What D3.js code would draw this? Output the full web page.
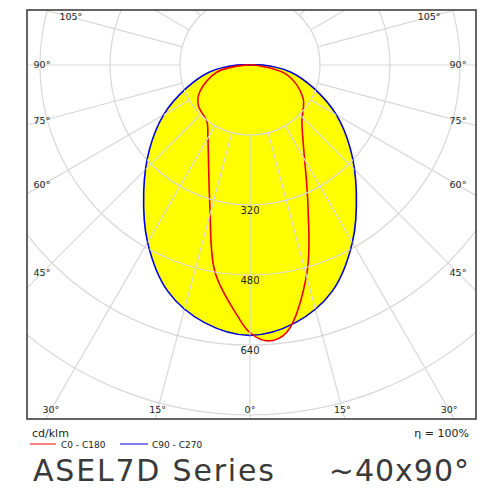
<!DOCTYPE html>
<html><head><meta charset="utf-8">
<script src="https://cdn.jsdelivr.net/npm/d3@7"></script>
<style>body{margin:0;background:#fff}text{font-family:"DejaVu Sans",sans-serif}</style>
</head><body><svg id="c" width="500" height="500"></svg>
<script>
// intensity in cd/klm vs gamma angle (deg from nadir)
var c90Angles = [0, 10, 20, 30, 40, 50, 60, 70, 80, 90];
var c90Values = [618, 598, 550, 468, 378, 300, 228, 155, 95, 30];
var c0Angles = [-90, -78, -62, -52, -37, -31, -16, -9.6, -3, 0, 3.7, 7.9, 15.4, 22.5, 42.4, 58, 75, 90];
var c0Values = [10, 77, 130, 150, 163, 187, 333, 480, 572, 612, 632, 616, 491, 346, 176, 143, 88, 10];
var ringValues = [160, 320, 480, 640, 800, 960, 1120, 1280];
var ringLabels = [320, 480, 640];
var gridAngles = d3.range(-180, 180, 15);

var svg = d3.select("#c");
var cx = 250, cy = 65;
var frame = {x0: 27, y0: 10, x1: 476, y1: 419};
var r = d3.scaleLinear().domain([0, 640]).range([0, 280]);

svg.append("clipPath").attr("id", "fr").append("rect")
  .attr("x", frame.x0).attr("y", frame.y0).attr("width", frame.x1 - frame.x0).attr("height", frame.y1 - frame.y0);
var g = svg.append("g").attr("clip-path", "url(#fr)");
var grid = g.append("g").attr("stroke", "#d8d8d8").attr("fill", "none").attr("stroke-width", 1.2);
grid.selectAll("circle").data(ringValues).enter().append("circle")
  .attr("cx", cx).attr("cy", cy).attr("r", function(d) { return r(d); });
grid.selectAll("line").data(gridAngles).enter().append("line")
  .attr("x1", function(d) { return cx + r(160) * Math.sin(d * Math.PI / 180); })
  .attr("y1", function(d) { return cy + r(160) * Math.cos(d * Math.PI / 180); })
  .attr("x2", function(d) { return cx + 800 * Math.sin(d * Math.PI / 180); })
  .attr("y2", function(d) { return cy + 800 * Math.cos(d * Math.PI / 180); });

// lineRadial: angle 0 = up, so rotate by pi to put nadir down
function pts(angles, values) {
  return angles.map(function(a, i) { return [Math.PI - a * Math.PI / 180, r(values[i])]; });
}
var blueA = c90Angles.slice(1).reverse().map(function(a) { return -a; }).concat(c90Angles);
var blueV = c90Values.slice(1).reverse().concat(c90Values);
var line = d3.lineRadial().curve(d3.curveCatmullRomClosed.alpha(0.5));
var curves = g.append("g").attr("transform", "translate(" + cx + "," + cy + ")");
var bp = pts(blueA, blueV); bp.push([0, 0]);
var rp = pts(c0Angles, c0Values); rp.push([0, 0]);
curves.append("path").attr("d", line(bp)).attr("fill", "#ffff00");
curves.append("path").attr("d", line(rp)).attr("fill", "#ffff00");

// grid drawn again over the yellow area
var bClip = svg.append("clipPath").attr("id", "bc");
bClip.append("path").attr("transform", "translate(" + cx + "," + cy + ")").attr("d", line(bp));
bClip.append("path").attr("transform", "translate(" + cx + "," + cy + ")").attr("d", line(rp));
var grid2 = g.append("g").attr("clip-path", "url(#bc)").attr("stroke", "#d8d8d8").attr("fill", "none").attr("stroke-width", 1.2);
grid2.selectAll("circle").data(ringValues.slice(0, 4)).enter().append("circle")
  .attr("cx", cx).attr("cy", cy).attr("r", function(d) { return r(d); });
grid2.selectAll("line").data(gridAngles).enter().append("line")
  .attr("x1", function(d) { return cx + r(160) * Math.sin(d * Math.PI / 180); })
  .attr("y1", function(d) { return cy + r(160) * Math.cos(d * Math.PI / 180); })
  .attr("x2", function(d) { return cx + r(640) * Math.sin(d * Math.PI / 180); })
  .attr("y2", function(d) { return cy + r(640) * Math.cos(d * Math.PI / 180); });

curves.append("path").attr("d", line(bp)).attr("fill", "none").attr("stroke", "#0000dd").attr("stroke-width", 1.6);
curves.append("path").attr("d", line(rp)).attr("fill", "none").attr("stroke", "#ee0000").attr("stroke-width", 1.6);

svg.selectAll(".rl").data(ringLabels).enter().append("text")
  .attr("x", cx).attr("y", function(d) { return cy + r(d) + 9; })
  .attr("text-anchor", "middle").attr("font-size", 10).attr("fill", "#222").text(String);

svg.append("rect").attr("x", frame.x0).attr("y", frame.y0).attr("width", frame.x1 - frame.x0)
  .attr("height", frame.y1 - frame.y0).attr("fill", "none").attr("stroke", "#333").attr("stroke-width", 1.5);

// angle labels on an inset rectangle
var inset = {x0: 42, x1: 458, y0: 17, y1: 410};
var edgeAngles = [-105, -90, -75, -60, -45, -30, -15, 0, 15, 30, 45, 60, 75, 90, 105];
edgeAngles.forEach(function(a) {
  var s = Math.sin(a * Math.PI / 180), c = Math.cos(a * Math.PI / 180);
  var t = Infinity;
  if (s > 0) t = Math.min(t, (inset.x1 - cx) / s);
  if (s < 0) t = Math.min(t, (inset.x0 - cx) / s);
  if (c > 0) t = Math.min(t, (inset.y1 - cy) / c);
  if (c < 0) t = Math.min(t, (inset.y0 - cy) / c);
  var x = Math.max(inset.x0, Math.min(inset.x1, cx + t * s));
  var y = Math.max(inset.y0, Math.min(inset.y1, cy + t * c));
  svg.append("text").attr("x", x).attr("y", y + 3).attr("text-anchor", "middle")
    .attr("font-size", 9.5).attr("fill", "#222").text(Math.abs(a) + "°");
});

svg.append("text").attr("x", 32).attr("y", 437).attr("font-size", 11).attr("fill", "#222").text("cd/klm");
svg.append("text").attr("x", 469).attr("y", 437).attr("text-anchor", "end").attr("font-size", 11).attr("fill", "#222").text("η = 100%");
svg.append("line").attr("x1", 30).attr("x2", 56).attr("y1", 444).attr("y2", 444).attr("stroke", "#ee0000");
svg.append("text").attr("x", 61).attr("y", 448).attr("font-size", 9).attr("fill", "#222").text("C0 - C180");
svg.append("line").attr("x1", 120).attr("x2", 148).attr("y1", 444).attr("y2", 444).attr("stroke", "#0000dd");
svg.append("text").attr("x", 152).attr("y", 448).attr("font-size", 9).attr("fill", "#222").text("C90 - C270");
svg.append("text").attr("x", 33).attr("y", 481).attr("font-size", 30).attr("letter-spacing", 1.8).attr("fill", "#3a3a3a").text("ASEL7D Series");
svg.append("text").attr("x", 470).attr("y", 481).attr("text-anchor", "end").attr("font-size", 30).attr("letter-spacing", 1).attr("fill", "#3a3a3a").text("~40x90°");
</script></body></html>
